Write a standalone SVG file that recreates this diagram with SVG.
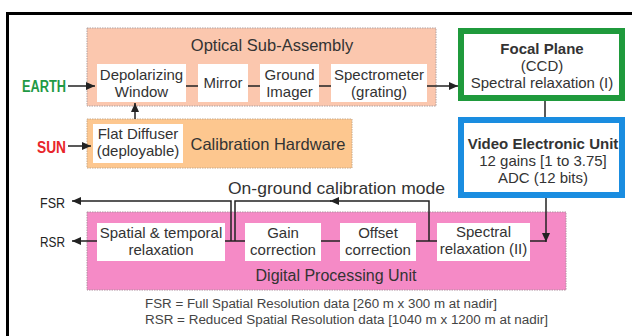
<svg xmlns="http://www.w3.org/2000/svg" width="632" height="336" viewBox="0 0 632 336">
<defs>
<marker id="arr" markerUnits="userSpaceOnUse" markerWidth="9" markerHeight="8" viewBox="0 0 9 8" refX="9" refY="4" orient="auto">
<path d="M0,0 L9,4 L0,8 z" fill="#222"/>
</marker>
</defs>
<style>
text{font-family:"Liberation Sans",Arial,sans-serif;fill:#333;}
.t15{font-size:15px;text-anchor:middle;}
.b15{font-size:15px;font-weight:bold;text-anchor:middle;}
.title{font-size:16.5px;text-anchor:middle;}
.inner{fill:#fff;stroke:none;}
.ln{fill:none;stroke:#222;stroke-width:1.5;}
.ar{fill:none;stroke:#222;stroke-width:1.5;marker-end:url(#arr);}
.foot{font-size:12px;fill:#444;}
</style>
<rect x="7.5" y="13.5" width="700" height="400" fill="#fff" stroke="#000" stroke-width="3"/>

<g id="earth"><text x="22" y="92" font-size="16" font-weight="bold" textLength="44" lengthAdjust="spacingAndGlyphs" style="fill:#1f9a45">EARTH</text></g>
<g id="sun"><text x="37" y="153" font-size="16" font-weight="bold" textLength="29" lengthAdjust="spacingAndGlyphs" style="fill:#e8252a">SUN</text></g>

<g id="optical-sub-assembly">
<rect x="87" y="28" width="349" height="78" fill="#fbc7ae" stroke="#b0a0a0" stroke-width="1" stroke-dasharray="1.5,1"/>
<text class="title" x="272" y="51">Optical Sub-Assembly</text>
</g>
<g id="depolarizing-window">
<rect class="inner" x="97" y="64" width="89" height="38"/>
<text class="t15" x="141.5" y="80">Depolarizing</text>
<text class="t15" x="141.5" y="97">Window</text>
</g>
<g id="mirror">
<rect class="inner" x="198" y="64" width="50" height="38"/>
<text class="t15" x="223" y="88">Mirror</text>
</g>
<g id="ground-imager">
<rect class="inner" x="260" y="64" width="59" height="38"/>
<text class="t15" x="289.5" y="80">Ground</text>
<text class="t15" x="289.5" y="97">Imager</text>
</g>
<g id="spectrometer">
<rect class="inner" x="331" y="64" width="96" height="38"/>
<text class="t15" x="379" y="80">Spectrometer</text>
<text class="t15" x="379" y="97">(grating)</text>
</g>

<g id="calibration-hardware">
<rect x="87" y="119" width="265" height="49" fill="#fdc78f" stroke="#c8a888" stroke-width="1" stroke-dasharray="1.5,1"/>
<text class="title" x="268" y="150">Calibration Hardware</text>
</g>
<g id="flat-diffuser">
<rect class="inner" x="93" y="124" width="90" height="39"/>
<text class="t15" x="138" y="139">Flat Diffuser</text>
<text class="t15" x="138" y="156">(deployable)</text>
</g>

<g id="focal-plane">
<rect x="461" y="31" width="161" height="67" fill="#fff" stroke="#1f9a3c" stroke-width="6"/>
<text class="b15" x="542" y="54">Focal Plane</text>
<text class="t15" x="542" y="71">(CCD)</text>
<text class="t15" x="542" y="88">Spectral relaxation (I)</text>
</g>

<g id="video-electronic-unit">
<rect x="461" y="120" width="161" height="75" fill="#fff" stroke="#1a8de0" stroke-width="6"/>
<text class="b15" x="543" y="149">Video Electronic Unit</text>
<text class="t15" x="543" y="166">12 gains [1 to 3.75]</text>
<text class="t15" x="543" y="183">ADC (12 bits)</text>
</g>

<g id="digital-processing-unit">
<rect x="87" y="212" width="479" height="78" fill="#f58ac6" stroke="#b090a0" stroke-width="1" stroke-dasharray="1.5,1"/>
<text x="336" y="281" font-size="16" text-anchor="middle">Digital Processing Unit</text>
</g>
<g id="spatial-temporal-relaxation">
<rect class="inner" x="97" y="223" width="128" height="38"/>
<text class="t15" x="161" y="238">Spatial &amp; temporal</text>
<text class="t15" x="161" y="255">relaxation</text>
</g>
<g id="gain-correction">
<rect class="inner" x="245" y="223" width="76" height="38"/>
<text class="t15" x="283" y="238">Gain</text>
<text class="t15" x="283" y="255">correction</text>
</g>
<g id="offset-correction">
<rect class="inner" x="340" y="223" width="76" height="38"/>
<text class="t15" x="378" y="238">Offset</text>
<text class="t15" x="378" y="255">correction</text>
</g>
<g id="spectral-relaxation-ii">
<rect class="inner" x="437" y="223" width="93" height="38"/>
<text class="t15" x="483.5" y="237">Spectral</text>
<text class="t15" x="483.5" y="254">relaxation (II)</text>
</g>

<g id="fsr"><text x="40" y="208" font-size="15" textLength="25" lengthAdjust="spacingAndGlyphs" style="fill:#222">FSR</text></g>
<g id="rsr"><text x="40" y="247" font-size="15" textLength="25" lengthAdjust="spacingAndGlyphs" style="fill:#222">RSR</text></g>
<text x="228" y="194" font-size="17" textLength="217" lengthAdjust="spacingAndGlyphs">On-ground calibration mode</text>

<g id="connectors">
<path class="ar" d="M68,86 H95"/>
<path class="ar" d="M68,146 H91"/>
<path class="ar" d="M135,119 V103"/>
<path class="ln" d="M186,86 H198"/>
<path class="ln" d="M248,86 H260"/>
<path class="ln" d="M319,86 H331"/>
<path class="ar" d="M427,86 H458"/>
<path class="ln" d="M545,101 V117"/>
<path class="ar" d="M546,198 V242"/>
<path class="ln" d="M530,241 H546"/>
<path class="ln" d="M416,241 H437"/>
<path class="ln" d="M321,241 H340"/>
<path class="ln" d="M225,241 H245"/>
<path class="ar" d="M429,241 V201 H330"/>
<path class="ln" d="M331,201 H235 V241"/>
<path class="ar" d="M231,241 V201 H72"/>
<path class="ar" d="M97,241 H72"/>
</g>

<text class="foot" x="145" y="308" textLength="352" lengthAdjust="spacingAndGlyphs">FSR = Full Spatial Resolution data [260 m x 300 m at nadir]</text>
<text class="foot" x="145" y="324" textLength="403" lengthAdjust="spacingAndGlyphs">RSR = Reduced Spatial Resolution data [1040 m x 1200 m at nadir]</text>
</svg>
